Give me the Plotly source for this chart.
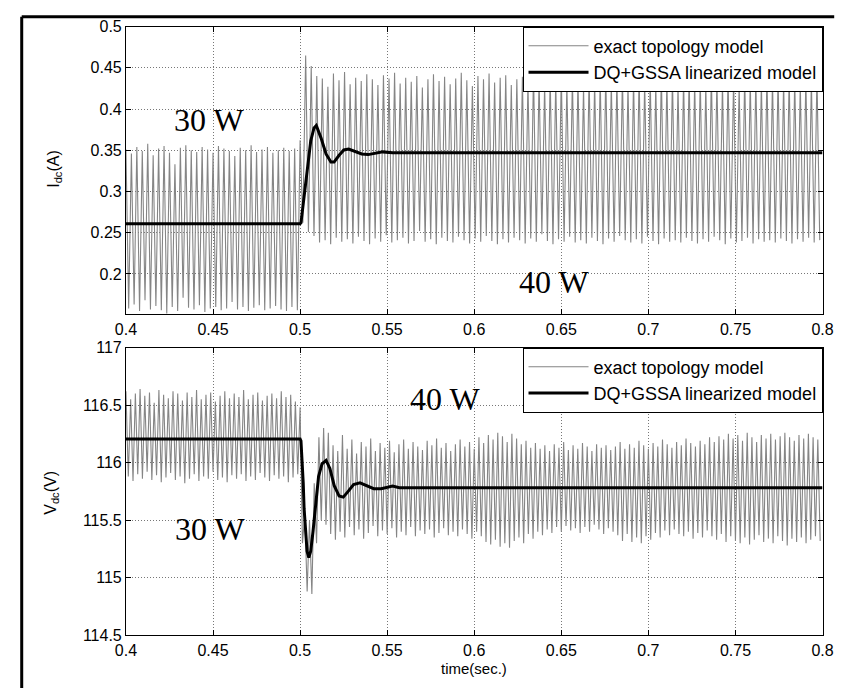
import plotly.graph_objects as go

# ---------------- data ----------------
# switching-ripple extremes of the exact topology model (one peak + one trough per cycle)
I_peak_pre = [0.351, 0.346, 0.354, 0.349, 0.358, 0.344, 0.352, 0.355, 0.347, 0.333,
              0.353, 0.356, 0.350, 0.348, 0.354, 0.351, 0.347, 0.355, 0.352, 0.349,
              0.343, 0.353, 0.350, 0.356, 0.348, 0.351, 0.354, 0.347, 0.350, 0.353,
              0.349, 0.352]
I_trough_pre = [0.158, 0.163, 0.155, 0.168, 0.157, 0.161, 0.156, 0.152, 0.160, 0.155,
                0.171, 0.159, 0.157, 0.162, 0.154, 0.158, 0.160, 0.156, 0.158, 0.166,
                0.157, 0.160, 0.155, 0.159, 0.162, 0.156, 0.158, 0.161, 0.157, 0.155,
                0.160, 0.156]
I_peak_post = [0.362, 0.465, 0.452, 0.440, 0.437, 0.427, 0.443, 0.435, 0.445, 0.430,
               0.438, 0.434, 0.442, 0.436, 0.429, 0.441, 0.437, 0.444, 0.431, 0.438,
               0.433, 0.440, 0.426, 0.436, 0.442, 0.434, 0.439, 0.430, 0.437, 0.444,
               0.435, 0.428, 0.440, 0.436, 0.443, 0.432, 0.438, 0.441, 0.429, 0.436,
               0.439, 0.433, 0.445, 0.437, 0.430, 0.440, 0.435, 0.442, 0.431, 0.438,
               0.436, 0.427, 0.441, 0.434, 0.439, 0.443, 0.432, 0.437, 0.440, 0.429,
               0.436, 0.442, 0.433, 0.438, 0.431, 0.444, 0.435, 0.439, 0.428, 0.437,
               0.441, 0.434, 0.438, 0.430, 0.443, 0.436, 0.432, 0.440, 0.437, 0.429,
               0.441, 0.435, 0.438, 0.433, 0.442, 0.436, 0.439, 0.434, 0.440, 0.437,
               0.431, 0.438, 0.435, 0.441]
I_trough_post = [0.262, 0.251, 0.246, 0.238, 0.241, 0.236, 0.244, 0.239, 0.242, 0.237,
                 0.245, 0.240, 0.236, 0.243, 0.239, 0.247, 0.238, 0.241, 0.244, 0.237,
                 0.240, 0.252, 0.239, 0.242, 0.236, 0.244, 0.240, 0.238, 0.245, 0.241,
                 0.237, 0.243, 0.239, 0.246, 0.240, 0.236, 0.242, 0.238, 0.244, 0.241,
                 0.237, 0.243, 0.239, 0.248, 0.240, 0.236, 0.242, 0.239, 0.245, 0.238,
                 0.241, 0.237, 0.244, 0.240, 0.236, 0.243, 0.239, 0.246, 0.241, 0.238,
                 0.242, 0.237, 0.245, 0.240, 0.236, 0.243, 0.239, 0.241, 0.238, 0.244,
                 0.240, 0.237, 0.242, 0.239, 0.245, 0.241, 0.236, 0.243, 0.238, 0.240,
                 0.244, 0.237, 0.242, 0.239, 0.241, 0.238, 0.243, 0.240, 0.237, 0.242,
                 0.239, 0.244, 0.238, 0.241]

V_peak_pre = [116.62, 116.55, 116.60, 116.64, 116.58, 116.61, 116.52, 116.63, 116.59, 116.56,
              116.62, 116.60, 116.54, 116.61, 116.57, 116.63, 116.55, 116.59, 116.61, 116.53,
              116.58, 116.62, 116.56, 116.60, 116.57, 116.63, 116.55, 116.59, 116.61, 116.54,
              116.58, 116.60, 116.56, 116.62, 116.57, 116.59, 116.53]
V_trough_pre = [115.88, 115.84, 115.90, 115.86, 115.92, 115.85, 115.89, 115.83, 115.87, 115.91,
                115.85, 115.88, 115.82, 115.86, 115.90, 115.84, 115.88, 115.86, 115.92, 115.85,
                115.87, 115.83, 115.89, 115.86, 115.90, 115.84, 115.88, 115.85, 115.91, 115.87,
                115.84, 115.89, 115.86, 115.88, 115.83, 115.87, 115.90]
V_peak_post = [116.48, 115.55, 115.50, 115.82, 116.22, 116.30, 116.26, 116.15, 116.10, 116.24,
               116.12, 116.20, 116.08, 116.18, 116.14, 116.21, 116.10, 116.17, 116.13, 116.19,
               116.09, 116.16, 116.20, 116.12, 116.18, 116.14, 116.11, 116.19, 116.15, 116.21,
               116.13, 116.17, 116.10, 116.16, 116.20, 116.14, 116.18, 116.12, 116.22, 116.17,
               116.24, 116.20, 116.26, 116.23, 116.18, 116.25, 116.21, 116.16, 116.19, 116.13,
               116.17, 116.12, 116.15, 116.10, 116.16, 116.13, 116.18, 116.11, 116.15, 116.12,
               116.17, 116.14, 116.10, 116.16, 116.13, 116.15, 116.11, 116.14, 116.18, 116.12,
               116.16, 116.13, 116.19, 116.15, 116.12, 116.17, 116.14, 116.20, 116.16, 116.13,
               116.18, 116.15, 116.21, 116.17, 116.14, 116.19, 116.16, 116.22, 116.18, 116.23,
               116.20, 116.25, 116.21, 116.24, 116.19, 116.26, 116.22, 116.18, 116.24, 116.21,
               116.25, 116.20, 116.23, 116.26, 116.22, 116.19, 116.24, 116.21, 116.25, 116.22,
               116.20]
V_trough_post = [115.30, 114.88, 114.86, 115.30, 115.50, 115.46, 115.38, 115.33, 115.40, 115.35,
                 115.44, 115.37, 115.42, 115.34, 115.39, 115.45, 115.36, 115.41, 115.38, 115.43,
                 115.35, 115.40, 115.37, 115.44, 115.36, 115.41, 115.38, 115.42, 115.35, 115.39,
                 115.43, 115.37, 115.40, 115.36, 115.42, 115.38, 115.34, 115.40, 115.36, 115.31,
                 115.29, 115.33, 115.27, 115.30, 115.26, 115.32, 115.35, 115.30, 115.38, 115.34,
                 115.40, 115.37, 115.42, 115.39, 115.44, 115.40, 115.45, 115.41, 115.43, 115.39,
                 115.44, 115.40, 115.46, 115.42, 115.38, 115.43, 115.40, 115.37, 115.32, 115.38,
                 115.31, 115.35, 115.30, 115.36, 115.33, 115.39, 115.35, 115.41, 115.37, 115.42,
                 115.38, 115.36, 115.40, 115.34, 115.39, 115.35, 115.41, 115.36, 115.33, 115.38,
                 115.31, 115.36, 115.32, 115.30, 115.35, 115.29, 115.33, 115.37, 115.31, 115.34,
                 115.30, 115.36, 115.32, 115.28, 115.34, 115.31, 115.35, 115.30, 115.33, 115.36,
                 115.32]

# averaged (DQ+GSSA linearized) response
I_avg_t = [0.4, 0.5, 0.5005, 0.5023, 0.5042, 0.5061, 0.5080, 0.5093, 0.5120, 0.5149,
           0.5177, 0.5195, 0.5223, 0.5251, 0.5279, 0.5316, 0.5354, 0.5391, 0.5428, 0.5475,
           0.5531, 0.8]
I_avg_v = [0.261, 0.261, 0.262, 0.2945, 0.3338, 0.3612, 0.377, 0.380, 0.365, 0.3455,
           0.3357, 0.3357, 0.3436, 0.3503, 0.3515, 0.3487, 0.3455, 0.3447, 0.3463, 0.348,
           0.347, 0.347]
V_avg_t = [0.4, 0.5, 0.5005, 0.5012, 0.5018, 0.5023, 0.5031, 0.5040, 0.5050, 0.5061,
           0.5074, 0.5089, 0.5106, 0.5126, 0.5149, 0.5171, 0.5196, 0.5224, 0.5248, 0.5276,
           0.5307, 0.5344, 0.5382, 0.5423, 0.5466, 0.5503, 0.5531, 0.5570, 0.8]
V_avg_v = [116.206, 116.206, 116.19, 116.02, 115.825, 115.60, 115.40, 115.23, 115.175, 115.23,
           115.40, 115.655, 115.88, 115.99, 116.02, 115.95, 115.80, 115.71, 115.70, 115.75,
           115.81, 115.825, 115.80, 115.774, 115.774, 115.79, 115.797, 115.782, 115.782]

x_ticks = [0.4, 0.45, 0.5, 0.55, 0.6, 0.65, 0.7, 0.75, 0.8]
x_labels = ["0.4", "0.45", "0.5", "0.55", "0.6", "0.65", "0.7", "0.75", "0.8"]
I_ticks = [0.2, 0.25, 0.3, 0.35, 0.4, 0.45, 0.5]
I_labels = ["0.2", "0.25", "0.3", "0.35", "0.4", "0.45", "0.5"]
V_ticks = [114.5, 115, 115.5, 116, 116.5, 117]
V_labels = ["114.5", "115", "115.5", "116", "116.5", "117"]

T_START, T_STEP, T_END = 0.4, 0.5, 0.8


def ripple(t0, t1, peaks, troughs):
    """Alternate peak / trough samples evenly across [t0, t1)."""
    pairs = list(zip(peaks, troughs))
    period = (t1 - t0) / len(pairs)
    ts, vs = [], []
    for i, (p, q) in enumerate(pairs):
        ts += [t0 + i * period, t0 + (i + 0.5) * period]
        vs += [p, q]
    return ts, vs


tI1, vI1 = ripple(T_START, T_STEP, I_peak_pre, I_trough_pre)
tI2, vI2 = ripple(T_STEP, T_END, I_peak_post, I_trough_post)
tV1, vV1 = ripple(T_START, T_STEP, V_peak_pre, V_trough_pre)
tV2, vV2 = ripple(T_STEP, T_END, V_peak_post, V_trough_post)

W, H = 853, 697
px = lambda x: x / W
py = lambda y: 1 - y / H

GRAY = "#858585"
FONT = "Liberation Sans, Arial, sans-serif"
SERIF = "Liberation Serif, Times New Roman, serif"

fig = go.Figure()
fig.add_trace(go.Scatter(x=tI1 + tI2, y=vI1 + vI2, mode="lines", name="exact topology model",
                         line=dict(color=GRAY, width=1.1), xaxis="x", yaxis="y", legend="legend"))
fig.add_trace(go.Scatter(x=I_avg_t, y=I_avg_v, mode="lines", name="DQ+GSSA linearized model",
                         line=dict(color="black", width=3), xaxis="x", yaxis="y", legend="legend"))
fig.add_trace(go.Scatter(x=tV1 + tV2, y=vV1 + vV2, mode="lines", name="exact topology model",
                         line=dict(color=GRAY, width=1.1), xaxis="x2", yaxis="y2", legend="legend2"))
fig.add_trace(go.Scatter(x=V_avg_t, y=V_avg_v, mode="lines", name="DQ+GSSA linearized model",
                         line=dict(color="black", width=3), xaxis="x2", yaxis="y2", legend="legend2"))

ax_common = dict(showline=True, linecolor="black", linewidth=1, mirror="ticks",
                 ticks="inside", ticklen=5, tickcolor="black", tickwidth=1,
                 showgrid=True, gridcolor="#777777", griddash="1px,2px", gridwidth=1,
                 zeroline=False, tickfont=dict(family=FONT, size=16, color="black"))

legend_common = dict(xanchor="right", yanchor="top", bgcolor="white", bordercolor="black",
                     borderwidth=1, font=dict(family=FONT, size=18, color="black"),
                     itemwidth=60, tracegroupgap=0)

fig.update_layout(
    width=W, height=H, margin=dict(l=0, r=0, t=0, b=0),
    paper_bgcolor="white", plot_bgcolor="white",
    xaxis=dict(domain=[px(118), px(833)], range=[T_START, T_END], tickvals=x_ticks,
               ticktext=x_labels, anchor="y", **ax_common),
    yaxis=dict(domain=[py(314), py(19)], range=[0.151, 0.5], tickvals=I_ticks,
               ticktext=I_labels, anchor="x", **ax_common),
    xaxis2=dict(domain=[px(118), px(833)], range=[T_START, T_END], tickvals=x_ticks,
                ticktext=x_labels, anchor="y2", **ax_common),
    yaxis2=dict(domain=[py(643), py(348)], range=[114.5, 117], tickvals=V_ticks,
                ticktext=V_labels, anchor="x2", **ax_common),
    legend=dict(x=px(833), y=py(19), **legend_common),
    legend2=dict(x=px(833), y=py(348), **legend_common),
    showlegend=True,
)

# white patches behind the power labels (above grid, below curves)
label_boxes = [(191, 115, 133, 50), (557, 281, 133, 46), (447, 401, 101, 50), (204, 534, 120, 46)]
for cx, cy, bw, bh in label_boxes:
    fig.add_shape(type="rect", xref="paper", yref="paper",
                  x0=px(cx - bw / 2), x1=px(cx + bw / 2), y0=py(cy + bh / 2), y1=py(cy - bh / 2),
                  fillcolor="white", line=dict(width=0), layer="between")

power_labels = [("30 W", 203, 115), ("40 W", 557, 281), ("40 W", 446, 401), ("30 W", 204, 534)]
for txt, cx, cy in power_labels:
    fig.add_annotation(text=txt, x=px(cx), y=py(cy), xref="paper", yref="paper",
                       showarrow=False, xanchor="center", yanchor="middle",
                       font=dict(family=SERIF, size=32, color="black"))

# axis titles
fig.add_annotation(text="I<sub>dc</sub>(A)", x=px(45), y=py(165), xref="paper", yref="paper",
                   showarrow=False, textangle=-90, xanchor="center", yanchor="middle",
                   font=dict(family=FONT, size=16, color="black"))
fig.add_annotation(text="V<sub>dc</sub>(V)", x=px(42), y=py(497), xref="paper", yref="paper",
                   showarrow=False, textangle=-90, xanchor="center", yanchor="middle",
                   font=dict(family=FONT, size=16, color="black"))
fig.add_annotation(text="time(sec.)", x=px(475), y=py(677), xref="paper", yref="paper",
                   showarrow=False, xanchor="center", yanchor="middle",
                   font=dict(family=FONT, size=15, color="black"))

# outer figure frame (top and left edges)
fig.add_shape(type="line", xref="paper", yref="paper", x0=px(11), x1=px(845), y0=py(9), y1=py(9),
              line=dict(color="black", width=3))
fig.add_shape(type="line", xref="paper", yref="paper", x0=px(11), x1=px(11), y0=py(9), y1=0,
              line=dict(color="black", width=3))

fig.write_html("out.html")
